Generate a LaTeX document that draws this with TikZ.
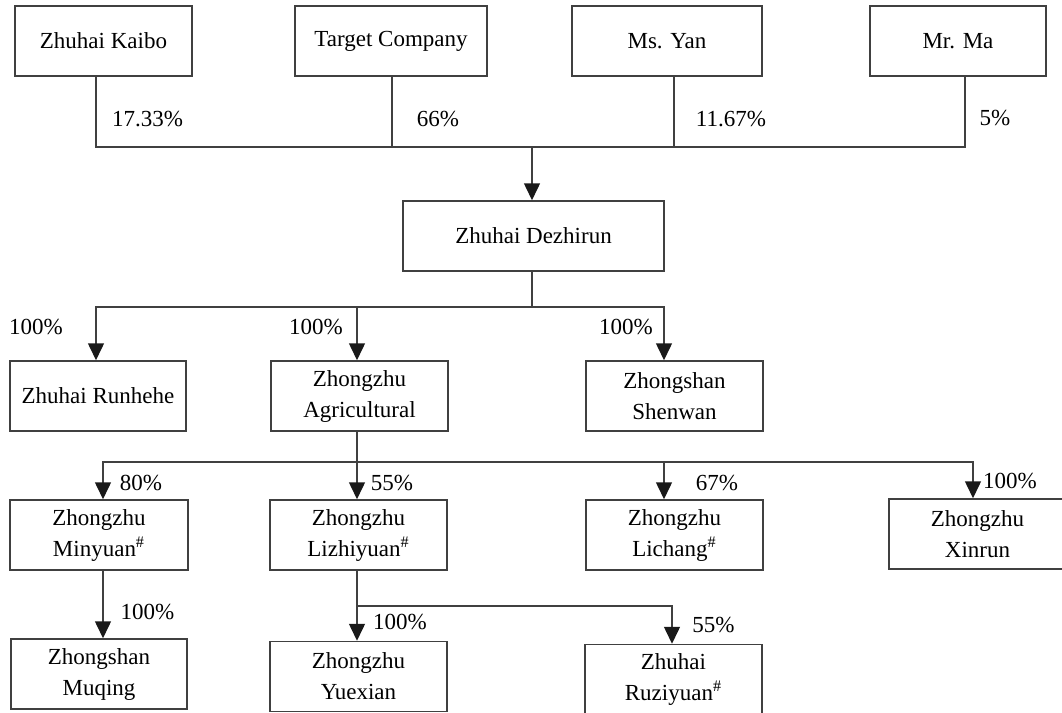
\documentclass[tikz,border=0pt]{standalone}
\usepackage{fontspec}
\setmainfont{Liberation Serif}
\usetikzlibrary{arrows.meta}

\begin{document}
\begin{tikzpicture}[x=0.5pt,y=-0.5pt,
    entity/.style={draw=black!75,line width=0.75pt,minimum height=35pt,
        inner sep=0pt,align=center,font=\fontsize{11.5}{15.5}\selectfont},
    share/.style={inner sep=0pt,font=\fontsize{11.5}{14}\selectfont},
    link/.style={draw=black!75,line width=0.75pt},
    owns/.style={link,-{Triangle[width=8pt,length=8.5pt,color=black!90]}}]
    \useasboundingbox (0,0) rectangle (1062,713);
    \clip (0,0) rectangle (1062,713);

    \node[entity,minimum width=88.5pt] (kaibo) at (103.5,41) {Zhuhai Kaibo};
    \node[entity,minimum width=96pt] (target) at (391,41) {Target Company};
    \node[entity,minimum width=95pt] (yan) at (667,41) {Ms. Yan};
    \node[entity,minimum width=88pt] (ma) at (958,41) {Mr. Ma};

    \node[entity,minimum width=130.5pt] (dezhirun) at (533.5,236) {Zhuhai Dezhirun};

    \node[entity,minimum width=88pt] (runhehe) at (98,396) {Zhuhai Runhehe};
    \node[entity,minimum width=88.5pt] (agri) at (359.5,396) {Zhongzhu\\Agricultural};
    \node[entity,minimum width=88.5pt] (shenwan) at (674.5,396) {Zhongshan\\Shenwan};

    \node[entity,minimum width=89pt] (minyuan) at (99,535) {Zhongzhu\\Minyuan\textsuperscript{\#}};
    \node[entity,minimum width=88.5pt] (lizhi) at (358.5,535) {Zhongzhu\\Lizhiyuan\textsuperscript{\#}};
    \node[entity,minimum width=88.5pt] (lichang) at (674.5,535) {Zhongzhu\\Lichang\textsuperscript{\#}};
    \node[entity,minimum width=88.5pt] (xinrun) at (977.5,534) {Zhongzhu\\Xinrun};

    \node[entity,minimum width=88pt] (muqing) at (99,674) {Zhongshan\\Muqing};
    \node[entity,minimum width=88.5pt] (yuexian) at (358.5,676.5) {Zhongzhu\\Yuexian};
    \node[entity,minimum width=88.5pt] (ruziyuan) at (673.5,679.5) {Zhuhai\\Ruziyuan\textsuperscript{\#}};

    \node[share] (p1) at (147.5,119) {17.33\%};
    \node[share] (p2) at (438,119) {66\%};
    \node[share] (p3) at (731,119) {11.67\%};
    \node[share] (p4) at (995,118) {5\%};
    \node[share] (p5) at (36,327) {100\%};
    \node[share] (p6) at (316,327) {100\%};
    \node[share] (p7) at (626,327) {100\%};
    \node[share] (p8) at (141,483) {80\%};
    \node[share] (p9) at (392,483) {55\%};
    \node[share] (p10) at (717,483) {67\%};
    \node[share] (p11) at (1010,481) {100\%};
    \node[share] (p12) at (147.5,612) {100\%};
    \node[share] (p13) at (400,622) {100\%};
    \node[share] (p14) at (713.5,625) {55\%};

    \coordinate (topbus) at (532,147);
    \draw[link] (96,0 |- kaibo.south) |- (topbus);
    \draw[link] (392,0 |- target.south) |- (topbus);
    \draw[link] (674,0 |- yan.south) |- (topbus);
    \draw[link] (965,0 |- ma.south) |- (topbus);
    \draw[owns] (topbus) -- (topbus |- dezhirun.north);

    \coordinate (midbus) at (532,307);
    \draw[link] (midbus |- dezhirun.south) -- (midbus);
    \draw[owns] (midbus) -| (96,0 |- runhehe.north);
    \draw[owns] (midbus) -| (357,0 |- agri.north);
    \draw[owns] (midbus) -| (664,0 |- shenwan.north);

    \coordinate (agribus) at (357,462);
    \draw[link] (agribus |- agri.south) -- (agribus);
    \draw[owns] (agribus) -| (103,0 |- minyuan.north);
    \draw[owns] (agribus) -- (agribus |- lizhi.north);
    \draw[owns] (agribus) -| (664,0 |- lichang.north);
    \draw[owns] (agribus) -| (973,0 |- xinrun.north);

    \draw[owns] (103,0 |- minyuan.south) -- (103,0 |- muqing.north);

    \coordinate (lizhibus) at (357,606);
    \draw[owns] (lizhibus |- lizhi.south) -- (lizhibus |- yuexian.north);
    \draw[owns] (lizhibus) -| (672,0 |- ruziyuan.north);
\end{tikzpicture}
\end{document}
